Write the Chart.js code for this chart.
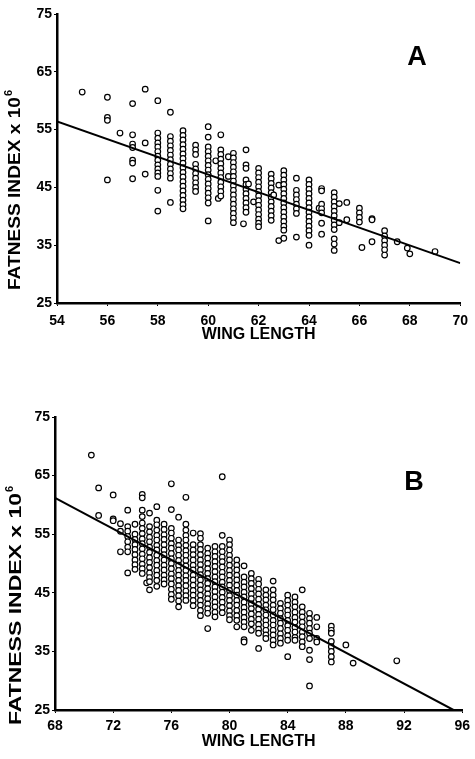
<!DOCTYPE html>
<html>
<head>
<meta charset="utf-8">
<script src="https://cdn.jsdelivr.net/npm/chart.js@4/dist/chart.umd.min.js"></script>
<style>
	html, body { margin: 0; padding: 0; background: #fff; }
	#wrap { position: relative; width: 475px; height: 759px; }
	#chartA { position: absolute; left: 0; top: 0; }
	#chartB { position: absolute; left: 0; top: 370px; }
</style>
</head>
<body>
<div id="wrap">
	<canvas id="chartA" width="475" height="350"></canvas>
	<canvas id="chartB" width="475" height="389"></canvas>
</div>
<script>

// ---- panel A : wing length columns and the fatness values in each ----
const wingA = [55, 56, 56.5, 57, 57.5, 58, 58.5, 59, 59.5, 60, 60.3, 60.4, 60.5, 60.8, 61, 61.4, 61.5, 61.6, 61.8, 62,
	62.5, 62.6, 62.8, 63, 63.5, 64, 64.4, 64.5, 65, 65.2, 65.5, 66, 66.1, 66.5, 67, 67.5, 67.9, 68, 69];
const fatA = [
	[61.5],
	[60.6, 57.1, 56.6, 46.3],
	[54.4],
	[59.5, 54.1, 52.5, 51.9, 49.7, 49.2, 46.5],
	[62.0, 52.7, 47.3],
	[60.0, 54.4, 53.5, 52.7, 52.0, 51.2, 50.4, 49.7, 48.9, 48.2, 47.5, 46.9, 44.5, 40.9],
	[58.0, 53.8, 53.0, 52.2, 51.4, 50.6, 49.8, 49.0, 48.2, 47.4, 46.6, 42.4],
	[54.8, 54.0, 53.2, 52.4, 51.6, 50.8, 50.0, 49.2, 48.4, 47.6, 46.8, 46.0, 45.2, 44.4, 43.6, 42.8, 42.0, 41.3],
	[52.3, 51.5, 50.7, 49.0, 48.2, 47.4, 46.6, 45.8, 45.0, 44.3],
	[55.5, 53.7, 52.0, 51.2, 50.4, 49.6, 48.8, 48.0, 47.2, 46.4, 45.6, 44.8, 44.0, 43.2, 42.3, 39.2],
	[49.6],
	[43.1],
	[54.1, 51.5, 50.7, 49.9, 49.1, 48.3, 47.5, 46.7, 45.9, 45.1, 44.3, 43.5],
	[50.3, 46.9],
	[50.9, 50.1, 49.3, 48.5, 47.7, 46.9, 46.1, 45.3, 44.5, 43.7, 42.9, 42.1, 41.3, 40.5, 39.7, 38.9],
	[38.7],
	[51.5, 48.9, 48.3, 46.3, 45.5, 44.7, 43.9, 43.1, 42.3, 41.5, 40.7],
	[45.6],
	[42.5],
	[48.3, 47.5, 46.7, 45.9, 45.1, 44.3, 43.5, 42.7, 41.9, 41.1, 40.3, 39.5, 38.8, 38.2],
	[47.3, 46.5, 45.7, 44.9, 44.1, 43.3, 42.5, 41.7, 40.9, 40.1, 39.3],
	[43.7],
	[45.4, 35.8],
	[47.9, 47.1, 46.3, 45.5, 44.7, 43.9, 43.1, 42.3, 41.5, 40.7, 39.9, 39.1, 38.3, 37.6, 36.2],
	[46.6, 44.5, 43.7, 42.9, 42.1, 41.3, 40.5, 36.4],
	[46.3, 45.5, 44.7, 43.9, 43.1, 42.3, 41.5, 40.7, 39.9, 39.1, 38.3, 37.5, 36.7, 35.0],
	[41.4],
	[44.8, 44.4, 42.1, 41.3, 40.6, 38.8, 36.9],
	[44.1, 43.3, 42.5, 41.7, 40.9, 40.1, 39.3, 38.5, 37.7, 36.1, 35.2, 34.1],
	[42.2, 38.9],
	[42.4, 39.4],
	[41.4, 40.6, 39.8, 39.0],
	[34.6],
	[39.6, 39.4, 35.6],
	[37.5, 36.6, 35.8, 35.0, 34.2, 33.3],
	[35.6],
	[34.5],
	[33.5],
	[33.9]
];
const fitA_x = [54, 70];
const fitA_y = [56.4, 31.9];
const ticksA_x = [54, 70, 2];

// ---- panel B ----
const wingB = [70.5, 71, 72, 72.5, 73, 73.5, 74, 74.3, 74.5, 75, 75.5, 76, 76.5, 77, 77.5, 78, 78.5, 79, 79.5, 80,
	80.5, 81, 81.5, 82, 82.5, 83, 83.5, 84, 84.5, 85, 85.5, 86, 87, 88, 88.5, 91.5];
const fatB = [
	[68.5],
	[62.9, 58.2],
	[61.7, 57.6, 57.3],
	[56.8, 55.5, 52.0],
	[59.1, 56.3, 55.5, 54.6, 53.7, 52.8, 52.0, 48.4],
	[56.7, 55.0, 54.1, 53.2, 52.4, 51.5, 50.6, 49.8, 49.0],
	[61.8, 61.2, 59.1, 58.0, 56.9, 56.0, 55.1, 54.2, 53.4, 52.5, 51.6, 50.8, 49.9, 49.1, 48.3],
	[46.7],
	[58.6, 56.3, 55.4, 54.5, 53.7, 52.8, 51.9, 51.0, 50.2, 49.3, 48.4, 47.6, 46.9, 45.5],
	[59.7, 57.4, 56.6, 55.7, 54.8, 54.0, 53.1, 52.3, 51.4, 50.5, 49.7, 48.8, 48.0, 47.1, 46.1],
	[56.7, 55.8, 54.9, 54.1, 53.2, 52.3, 51.5, 50.6, 49.7, 48.9, 48.0, 47.2, 46.5],
	[63.6, 59.2, 56.0, 55.2, 54.3, 53.4, 52.6, 51.7, 50.8, 50.0, 49.1, 48.2, 47.4, 46.5, 45.6, 44.7, 43.9],
	[57.9, 54.0, 53.1, 52.3, 51.4, 50.5, 49.7, 48.8, 48.0, 47.1, 46.2, 45.4, 44.5, 43.6, 42.6],
	[61.3, 56.7, 55.7, 54.8, 54.0, 53.1, 52.2, 51.4, 50.5, 49.6, 48.8, 47.9, 47.1, 46.2, 45.3, 44.5, 43.7],
	[55.2, 53.2, 52.3, 51.5, 50.6, 49.7, 48.9, 48.0, 47.2, 46.3, 45.4, 44.6, 43.7, 42.8],
	[55.1, 54.3, 53.2, 52.4, 51.5, 50.6, 49.8, 48.9, 48.1, 47.2, 46.3, 45.5, 44.6, 43.7, 42.9, 42.0, 41.1],
	[52.6, 51.7, 50.9, 50.0, 49.1, 48.3, 47.4, 46.6, 45.7, 44.8, 44.0, 43.1, 42.3, 41.5, 38.9],
	[52.9, 52.0, 51.2, 50.3, 49.5, 48.6, 47.7, 46.9, 46.0, 45.2, 44.3, 43.4, 42.6, 41.7, 40.9],
	[64.8, 54.8, 52.9, 52.0, 51.1, 50.3, 49.4, 48.5, 47.7, 46.8, 46.0, 45.1, 44.2, 43.4, 42.5, 41.6],
	[54.0, 53.2, 52.3, 51.4, 50.6, 49.7, 48.8, 48.0, 47.1, 46.3, 45.4, 44.5, 43.7, 42.8, 41.9, 41.1, 40.4],
	[50.6, 49.7, 48.9, 48.0, 47.2, 46.3, 45.4, 44.6, 43.7, 42.9, 42.0, 41.1, 40.3, 39.2],
	[49.6, 47.7, 46.8, 46.0, 45.1, 44.3, 43.4, 42.5, 41.7, 40.8, 40.0, 39.2, 37.0, 36.6],
	[48.3, 47.4, 46.6, 45.7, 44.8, 44.0, 43.1, 42.3, 41.4, 40.5, 39.7, 38.6],
	[47.3, 46.5, 45.6, 44.8, 43.9, 43.0, 42.2, 41.3, 40.5, 39.6, 38.8, 38.1, 35.5],
	[45.5, 44.6, 43.8, 42.9, 42.1, 41.2, 40.3, 39.5, 38.6, 37.8, 37.2],
	[47.0, 45.5, 44.6, 43.8, 42.9, 42.1, 41.2, 40.3, 39.5, 38.6, 37.8, 36.9, 36.1],
	[43.2, 42.3, 41.5, 40.6, 39.8, 38.9, 38.0, 37.2, 36.4],
	[44.6, 43.7, 42.9, 42.0, 41.2, 40.3, 39.4, 38.6, 37.7, 36.9, 34.1],
	[44.3, 43.4, 42.6, 41.7, 40.8, 40.0, 39.1, 38.3, 37.4, 36.9],
	[45.5, 42.6, 41.7, 40.9, 40.0, 39.2, 38.3, 37.5, 36.6, 35.8],
	[41.5, 40.6, 39.8, 38.9, 38.1, 37.2, 35.2, 33.6, 29.1],
	[40.8, 39.2, 37.2, 36.6],
	[39.3, 38.6, 38.1, 36.7, 35.8, 35.0, 34.1, 33.2],
	[36.1],
	[33.0],
	[33.4]
];
const fitB_x = [68, 95.4];
const fitB_y = [61.2, 25];
const ticksB_x = [68, 96, 4];

const ticksY = [25, 75, 10];
const yTitle = 'FATNESS INDEX x 10';
const xTitle = 'WING LENGTH';

const FONT = '"Liberation Sans", Arial, Helvetica, sans-serif';

function columnsToPoints(xs, cols) {
	const pts = [];
	xs.forEach((x, i) => cols[i].forEach(y => pts.push({ x: x, y: y })));
	return pts;
}

function zip(xs, ys) {
	return xs.map((x, i) => ({ x: x, y: ys[i] }));
}

// draws the rotated y title (with the superscript 6) and the panel letter
const panelText = {
	id: 'panelText',
	afterDraw(chart, args, opts) {
		const ctx = chart.ctx;
		ctx.save();
		ctx.fillStyle = '#000';

		ctx.font = 'bold 27px ' + FONT;
		ctx.textAlign = 'center';
		ctx.textBaseline = 'middle';
		ctx.fillText(opts.letter, opts.letterX, opts.letterY);

		ctx.translate(opts.titleX, opts.titleY);
		ctx.rotate(-Math.PI / 2);
		ctx.textAlign = 'left';
		ctx.font = 'bold 17px ' + FONT;
		const w = ctx.measureText(yTitle).width;
		ctx.save();
		ctx.scale(opts.titleLength / w, 1);
		ctx.fillText(yTitle, 0, 0);
		ctx.restore();
		ctx.font = 'bold 11px ' + FONT;
		ctx.fillText('6', opts.titleLength + 1, -6);
		ctx.restore();
	}
};

function makeChart(id, cfg) {
	const ctx = document.getElementById(id).getContext('2d');
	return new Chart(ctx, {
		type: 'scatter',
		data: {
			datasets: [
				{
					data: zip(cfg.fitX, cfg.fitY),
					showLine: true,
					borderColor: '#000',
					borderWidth: 2,
					pointRadius: 0,
					order: 0
				},
				{
					data: columnsToPoints(cfg.wing, cfg.fat),
					pointRadius: 2.8,
					pointBorderWidth: 1.2,
					pointBorderColor: '#000',
					pointBackgroundColor: '#fff',
					order: 1
				}
			]
		},
		options: {
			responsive: false,
			animation: false,
			layout: { padding: cfg.padding },
			plugins: {
				legend: { display: false },
				tooltip: { enabled: false },
				panelText: cfg.text
			},
			scales: {
				x: {
					type: 'linear',
					min: cfg.xTicks[0],
					max: cfg.xTicks[1],
					afterFit: s => { s.height = cfg.xHeight; },
					border: { display: true, color: '#000', width: 2.5 },
					grid: { display: true, drawOnChartArea: false, drawTicks: true, tickLength: 3, color: '#000' },
					ticks: {
						stepSize: cfg.xTicks[2],
						padding: cfg.xPad,
						color: '#000',
						maxRotation: 0,
						font: { family: FONT, size: 14, weight: 'bold' }
					},
					title: {
						display: true,
						text: xTitle,
						color: '#000',
						padding: { top: 0, bottom: cfg.xTitlePad },
						font: { family: FONT, size: 16, weight: 'bold', lineHeight: 1.2 }
					}
				},
				y: {
					type: 'linear',
					min: ticksY[0],
					max: ticksY[1],
					afterFit: s => { s.width = cfg.yWidth; },
					border: { display: true, color: '#000', width: 2.5 },
					grid: { display: true, drawOnChartArea: false, drawTicks: true, tickLength: 3, color: '#000' },
					ticks: {
						stepSize: ticksY[2],
						padding: 2,
						color: '#000',
						font: { family: FONT, size: 14, weight: 'bold' }
					}
				}
			}
		},
		plugins: [panelText]
	});
}

makeChart('chartA', {
	wing: wingA, fat: fatA, fitX: fitA_x, fitY: fitA_y, xTicks: ticksA_x,
	padding: { top: 14, right: 8, left: 0, bottom: 0 },
	xHeight: 47, yWidth: 57, xPad: 7, xTitlePad: 6,
	text: { letter: 'A', letterX: 417, letterY: 58, titleX: 15, titleY: 290, titleLength: 193 }
});

makeChart('chartB', {
	wing: wingB, fat: fatB, fitX: fitB_x, fitY: fitB_y, xTicks: ticksB_x,
	padding: { top: 47, right: 10, left: 0, bottom: 0 },
	xHeight: 49, yWidth: 55, xPad: 5, xTitlePad: 8,
	text: { letter: 'B', letterX: 414, letterY: 113, titleX: 16, titleY: 355, titleLength: 232 }
});

</script>
</body>
</html>
